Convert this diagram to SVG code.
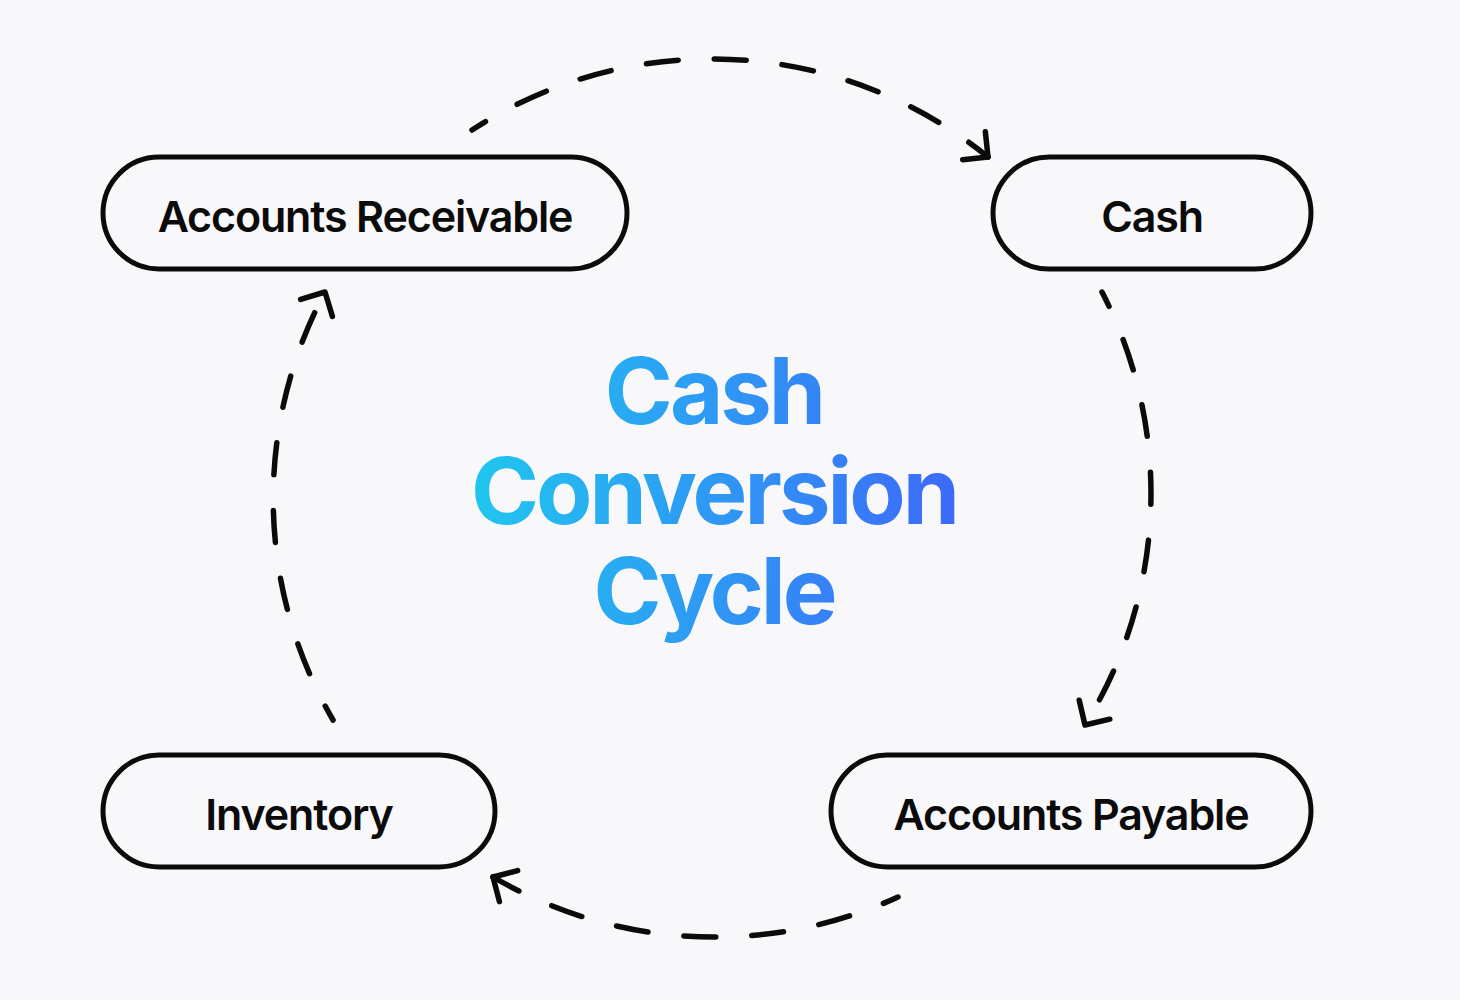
<svg xmlns="http://www.w3.org/2000/svg" width="1460" height="1000" viewBox="0 0 1460 1000">
<defs>
<style>
.node rect{fill:none;stroke:#0b0b0b;stroke-width:5}
.node text{font-family:Inter,"Noto Sans",sans-serif;font-weight:600;font-size:43px;fill:#0b0b0b;text-anchor:middle;letter-spacing:-1.15px}
.conn{fill:none;stroke:#0b0b0b;stroke-width:5.5;stroke-linecap:round;stroke-dasharray:32 36;stroke-dashoffset:16;marker-end:url(#chev)}
.title{font-family:Inter,"Noto Sans",sans-serif;font-weight:700;font-size:92px;text-anchor:middle;letter-spacing:-3px;fill:url(#grad)}
</style>
<marker id="chev" markerUnits="userSpaceOnUse" markerWidth="40" markerHeight="40" refX="0" refY="0" viewBox="-25 -20 30 40" orient="auto" overflow="visible">
<path d="M-18,-18 L0,0 L-18,18" fill="none" stroke="#0b0b0b" stroke-width="5.5" stroke-linecap="round" stroke-linejoin="round"/>
</marker>
<linearGradient id="grad" gradientUnits="userSpaceOnUse" x1="474" y1="480" x2="954" y2="500">
<stop offset="0" stop-color="#20C6EE"/>
<stop offset="1" stop-color="#3D6AFA"/>
</linearGradient>
</defs>
<rect width="1460" height="1000" fill="#F8F7FA"/>
<g id="connectors">
<path class="conn" d="M472,130 A439,439 0 0 1 988,157"/>
<path class="conn" d="M1102,292 A439,439 0 0 1 1085,725"/>
<path class="conn" d="M898,897 A439,439 0 0 1 493,877"/>
<path class="conn" d="M333,720 A439,439 0 0 1 325,292"/>
</g>
<g id="title">
<text class="title" x="714" y="424">Cash</text>
<text class="title" x="714" y="524">Conversion</text>
<text class="title" x="714" y="624">Cycle</text>
</g>
<g id="accounts-receivable" class="node">
<rect x="103" y="157" width="524" height="112" rx="56"/>
<text x="365" y="232">Accounts Receivable</text>
</g>
<g id="cash" class="node">
<rect x="993" y="157" width="318" height="112" rx="56"/>
<text x="1152" y="232">Cash</text>
</g>
<g id="inventory" class="node">
<rect x="103" y="755" width="392" height="112" rx="56"/>
<text x="299" y="830">Inventory</text>
</g>
<g id="accounts-payable" class="node">
<rect x="831" y="755" width="480" height="112" rx="56"/>
<text x="1071" y="830">Accounts Payable</text>
</g>
</svg>
